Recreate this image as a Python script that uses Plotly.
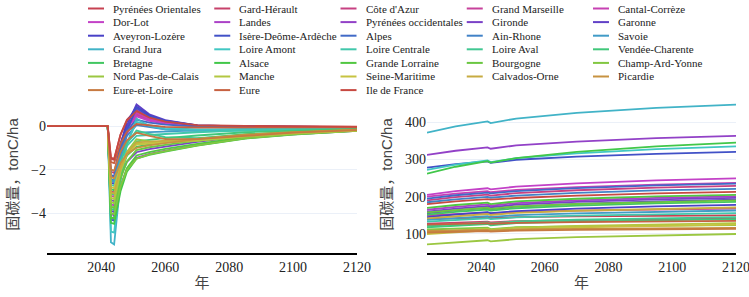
import colorsys
import plotly.graph_objects as go

NAMES = ["Pyrénées Orientales", "Gard-Hérault", "Côte d'Azur", "Grand Marseille", "Cantal-Corrèze",
         "Dor-Lot", "Landes", "Pyrénées occidentales", "Gironde", "Garonne",
         "Aveyron-Lozère", "Isère-Deôme-Ardèche", "Alpes", "Ain-Rhone", "Savoie",
         "Grand Jura", "Loire Amont", "Loire Centrale", "Loire Aval", "Vendée-Charente",
         "Bretagne", "Alsace", "Grande Lorraine", "Bourgogne", "Champ-Ard-Yonne",
         "Nord Pas-de-Calais", "Manche", "Seine-Maritime", "Calvados-Orne", "Picardie",
         "Eure-et-Loire", "Eure", "Ile de France"]

# ---- left panel: change in carbon stock (tonC/ha), values per region at key years ----
LEFT_YEARS = [2023, 2042, 2043, 2044, 2046, 2048, 2051, 2055, 2060, 2070, 2085, 2100, 2120]
L2023 = [0, 0, 0, 0, 0, 0, 0, 0, 0, 0, 0, 0, 0, 0, 0, 0, 0, 0, 0, 0, 0, 0, 0, 0, 0, 0, 0, 0, 0, 0, 0, 0, 0]
L2042 = [0, 0, 0, 0, 0, 0, 0, 0, 0, 0, 0, 0, 0, 0, 0, 0, 0, 0, 0, 0, 0, 0, 0, 0, 0, 0, 0, 0, 0, 0, 0, 0, 0]
L2043 = [-1.5, -2.1, -3.0, -2.3, -3.2, -3.6, -4.05, -4.2, -3.4, -3.9, -2.6, -4.3, -2.25, -2.45, -2.5, -5.35, -4.85,
         -2.7, -3.1, -3.8, -2.9, -4.45, -4.2, -3.7, -4.0, -3.5, -3.3, -2.8, -3.05, -2.35, -2.0, -1.65, -1.45]
L2044 = [-1.55, -2.15, -3.05, -2.35, -3.25, -3.65, -4.1, -4.25, -3.45, -3.95, -2.65, -4.35, -2.3, -2.5, -2.55, -5.45, -4.9,
         -2.75, -3.15, -3.85, -2.95, -4.5, -4.25, -3.75, -4.05, -3.55, -3.35, -2.85, -3.1, -2.4, -2.05, -1.7, -1.5]
L2046 = [-0.38, -0.78, -1.18, -0.9, -1.3, -1.58, -2.75, -1.7, -2.3, -1.45, -0.85, -1.73, -0.98, -1.2, -1.4, -2.55, -2.35,
         -1.6, -1.68, -2.28, -1.95, -3.0, -2.8, -2.43, -2.78, -2.08, -2.08, -1.85, -1.93, -1.7, -1.18, -0.8, -0.4]
L2048 = [0.3, 0.02, -0.08, -0.06, -0.16, -0.36, -1.97, -0.2, -1.64, 0.02, 0.2, -0.18, -0.21, -0.45, -0.74, -0.81, -0.82,
         -0.91, -0.79, -1.33, -1.35, -2.1, -1.93, -1.63, -2.01, -1.19, -1.31, -1.25, -1.22, -1.28, -0.65, -0.26, 0.26]
L2051 = [0.75, 0.55, 0.65, 0.5, 0.6, 0.45, -1.45, 0.8, -1.2, 1.0, 0.9, 0.85, 0.3, 0.05, -0.3, 0.35, 0.2,
         -0.45, -0.2, -0.7, -0.95, -1.5, -1.35, -1.1, -1.5, -0.6, -0.8, -0.85, -0.75, -1.0, -0.3, 0.1, 0.7]
L2055 = [0.41, 0.30, 0.36, 0.28, 0.33, 0.25, -1.28, 0.44, -1.06, 0.55, 0.5, 0.47, 0.16, -0.05, -0.27, 0.0, 0.05,
         -0.4, -0.35, -0.62, -0.84, -1.32, -1.19, -0.97, -1.3, -0.7, -0.78, -0.8, -0.72, -0.88, -0.45, 0.03, 0.4]
L2060 = [0.21, 0.15, 0.18, 0.14, 0.17, 0.12, -1.13, 0.22, -0.94, 0.28, 0.25, 0.24, 0.07, -0.15, -0.24, -0.15, -0.08,
         -0.36, -0.5, -0.55, -0.74, -1.17, -1.05, -0.86, -1.15, -0.75, -0.75, -0.73, -0.68, -0.78, -0.6, -0.03, 0.21]
L2070 = [0.03, 0.02, 0.02, 0.01, 0.02, 0.0, -0.87, 0.03, -0.72, 0.04, 0.04, 0.03, -0.02, -0.22, -0.19, -0.2, -0.15,
         -0.28, -0.55, -0.43, -0.57, -0.9, -0.81, -0.66, -0.88, -0.68, -0.66, -0.6, -0.58, -0.6, -0.6, -0.06, 0.05]
L2085 = [-0.01, -0.03, -0.03, -0.03, -0.03, -0.04, -0.55, -0.02, -0.46, -0.01, -0.01, -0.02, -0.05, -0.18, -0.13, -0.2, -0.14,
         -0.19, -0.4, -0.28, -0.37, -0.57, -0.51, -0.42, -0.56, -0.48, -0.47, -0.42, -0.42, -0.39, -0.45, -0.06, 0.01]
L2100 = [-0.02, -0.04, -0.05, -0.05, -0.05, -0.06, -0.38, -0.04, -0.32, -0.03, -0.03, -0.04, -0.06, -0.12, -0.1, -0.15, -0.11,
         -0.14, -0.28, -0.2, -0.26, -0.39, -0.35, -0.29, -0.38, -0.33, -0.33, -0.3, -0.3, -0.27, -0.3, -0.05, -0.01]
L2120 = [-0.03, -0.05, -0.06, -0.06, -0.07, -0.07, -0.21, -0.06, -0.18, -0.05, -0.04, -0.06, -0.07, -0.09, -0.08, -0.12, -0.09,
         -0.1, -0.17, -0.13, -0.15, -0.22, -0.2, -0.17, -0.22, -0.2, -0.2, -0.18, -0.18, -0.16, -0.18, -0.05, -0.02]
LEFT_COLS = [L2023, L2042, L2043, L2044, L2046, L2048, L2051, L2055, L2060, L2070, L2085, L2100, L2120]

# ---- right panel: carbon stock (tonC/ha), values per region at key years ----
RIGHT_YEARS = [2023, 2032, 2042, 2043, 2051, 2070, 2095, 2120]
R2023 = [140, 128, 190, 150, 200, 205, 165, 312, 160, 155, 145, 278, 195, 185, 138, 372, 272,
         133, 122, 118, 152, 262, 170, 158, 112, 72, 105, 100, 142, 108, 104, 125, 180]
R2032 = [142.2, 130.9, 198.6, 154, 208.1, 214.7, 172.9, 323.2, 168.1, 163.1, 152.3, 287.2, 203.8, 192.9, 143.5, 388.5, 285.9,
         138.1, 127.1, 122.8, 159.5, 280.3, 177.7, 165, 114.6, 78.2, 110.3, 105.5, 148.4, 109.8, 106.2, 127.2, 187.3]
R2042 = [144, 133.2, 205.6, 157.2, 214.8, 222.6, 179.4, 332.4, 174.8, 169.8, 158.2, 294.8, 211, 199.4, 148, 402, 297.2,
         142.2, 131.2, 126.8, 165.6, 295.2, 184, 170.8, 116.8, 83.2, 114.6, 110, 153.6, 111.2, 108, 129, 193.2]
R2043 = [142.6, 131.3, 202.9, 155.1, 211.9, 219.4, 175.8, 328.6, 171.7, 166.3, 155.9, 290.9, 209, 197.2, 145.8, 397.2, 292.8,
         139.8, 128.4, 123.4, 163, 291.2, 180.2, 167.5, 113.2, 80.1, 111.6, 107.5, 150.9, 109.1, 106.2, 127.5, 191.9]
R2051 = [145, 134.5, 209.5, 159, 218.5, 227, 183, 337.5, 178.5, 173.5, 161.5, 299, 215, 203, 150.5, 409.5, 303.5,
         144.5, 133.5, 129, 169, 303.5, 187.5, 174, 118, 86, 117, 112.5, 156.5, 112, 109, 130, 196.5]
R2070 = [147, 137.1, 217.3, 162.6, 225.9, 235.8, 190.2, 347.7, 185.9, 180.9, 168.1, 307.4, 223, 210.2, 155.5, 424.5, 316.1,
         149.1, 138.1, 133.4, 175.8, 320.1, 194.5, 180.4, 120.4, 91.6, 121.8, 117.5, 162.3, 113.6, 111, 132, 203.1]
R2095 = [148.8, 139.4, 224.3, 165.8, 232.6, 243.7, 196.7, 356.9, 192.6, 187.6, 174, 315, 230.2, 216.7, 160, 438, 327.4,
         153.2, 142.2, 137.4, 181.9, 335, 200.8, 186.2, 122.6, 96.6, 126.1, 122, 167.5, 115, 112.8, 133.8, 209]
R2120 = [150, 141, 229, 168, 237, 249, 201, 363, 197, 192, 178, 320, 235, 221, 163, 447, 335,
         156, 145, 140, 186, 345, 205, 190, 124, 100, 129, 125, 171, 116, 114, 135, 213]
RIGHT_COLS = [R2023, R2032, R2042, R2043, R2051, R2070, R2095, R2120]

X_TICKS = [2040, 2060, 2080, 2100, 2120]
Y_TICKS_LEFT = [0, -2, -4]
Y_TICKS_RIGHT = [100, 200, 300, 400]
Y_TITLE = "固碳量，tonC/ha"
X_TITLE = "年"

for col in LEFT_COLS + RIGHT_COLS:
    assert len(col) == len(NAMES)

n = len(NAMES)
COLORS = []
for i in range(n):
    h = ((352.7 - i * 360.0 / n) % 360) / 360.0
    r, g, b = colorsys.hls_to_rgb(h, 0.52, 0.55)
    COLORS.append("#%02x%02x%02x" % (int(r * 255), int(g * 255), int(b * 255)))

fig = go.Figure()
for i, name in enumerate(NAMES):
    fig.add_trace(go.Scatter(x=LEFT_YEARS, y=[c[i] for c in LEFT_COLS], mode="lines", name=name,
                             line=dict(color=COLORS[i], width=1.8), xaxis="x", yaxis="y",
                             showlegend=False, legendgroup=name))
for i, name in enumerate(NAMES):
    fig.add_trace(go.Scatter(x=RIGHT_YEARS, y=[c[i] for c in RIGHT_COLS], mode="lines", name=name,
                             line=dict(color=COLORS[i], width=1.8), xaxis="x2", yaxis="y2",
                             showlegend=False, legendgroup=name))

W, H = 749, 297
ML, MR, MT, MB = 47, 13, 96, 44
PW, PH = W - ML - MR, H - MT - MB

def px_x(v):
    return (v - ML) / PW

def px_y(v):
    return (H - MB - v) / PH

SERIF = "Liberation Serif"

# custom legend: 5 columns x 7 rows
annotations = []
shapes = []
for i, name in enumerate(NAMES):
    r, c = divmod(i, 5)
    tx = 111 + 126.25 * c
    ty = 8.5 + 13.6 * r
    annotations.append(dict(text=name, x=px_x(tx), y=px_y(ty), xref="paper", yref="paper",
                            xanchor="left", yanchor="middle", showarrow=False,
                            font=dict(family=SERIF, size=11, color="#222")))
    shapes.append(dict(type="line", xref="paper", yref="paper",
                       x0=px_x(tx - 23), x1=px_x(tx - 7), y0=px_y(ty), y1=px_y(ty),
                       line=dict(color=COLORS[i], width=2)))

axis_font = dict(family=SERIF, size=14, color="#222")
title_font = dict(family="Liberation Sans, Noto Sans CJK SC", size=15, color="#444")
xcommon = dict(range=[2023, 2120], tickvals=X_TICKS, showgrid=False, zeroline=False,
               showline=True, linecolor="black", linewidth=2, ticks="", automargin=False,
               ticklabeloverflow="allow", tickfont=axis_font,
               title=dict(text=X_TITLE, font=dict(family="Noto Sans CJK SC", size=15, color="#444"), standoff=4))
ycommon = dict(showgrid=True, gridcolor="#EBF0F8", gridwidth=1, zeroline=False, showline=False, ticks="",
               automargin=False, tickfont=axis_font, title=dict(text=Y_TITLE, font=title_font, standoff=8))

fig.update_layout(
    width=W, height=H,
    margin=dict(l=ML, r=MR, t=MT, b=MB),
    paper_bgcolor="white", plot_bgcolor="white",
    showlegend=False,
    xaxis=dict(domain=[0, 0.45], anchor="y", **xcommon),
    yaxis=dict(range=[-5.84, 1.39], tickvals=Y_TICKS_LEFT, anchor="x", **ycommon),
    xaxis2=dict(domain=[0.5515, 1], anchor="y2", **xcommon),
    yaxis2=dict(range=[49, 470], tickvals=Y_TICKS_RIGHT, anchor="x2", **ycommon),
    annotations=annotations,
    shapes=shapes,
)

fig.write_html("out.html", config={"displayModeBar": False},
               post_script="document.body.style.margin='0px';")
